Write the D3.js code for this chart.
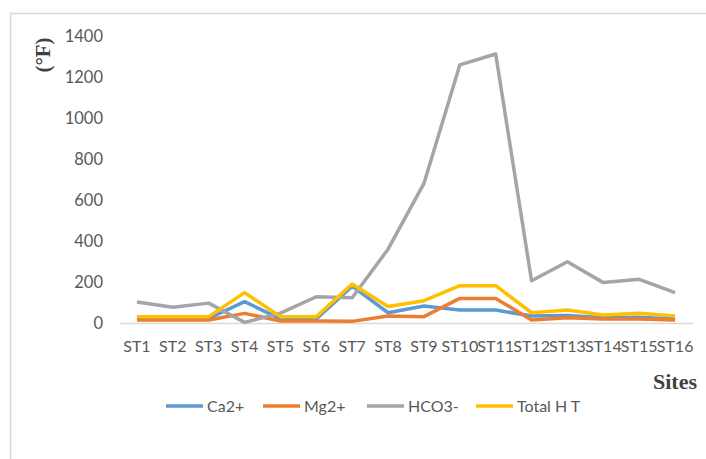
<!DOCTYPE html>
<html>
<head>
<meta charset="utf-8">
<script src="https://cdn.jsdelivr.net/npm/d3@7"></script>
<style>
  body { margin: 0; background: #fff; }
  svg { display: block; }
</style>
</head>
<body>
<div id="chart"></div>
<script>
// Sites along the x axis
const sites = ["ST1", "ST2", "ST3", "ST4", "ST5", "ST6", "ST7", "ST8",
  "ST9", "ST10", "ST11", "ST12", "ST13", "ST14", "ST15", "ST16"];

// Series values
const ca = [22, 22, 22, 104, 20, 20, 180, 50, 83, 63, 63, 34, 36, 26, 28, 20];
const mg = [15, 15, 15, 47, 10, 10, 8, 34, 31, 120, 120, 15, 26, 20, 20, 15];
const hco3 = [102, 77, 97, 3, 48, 128, 123, 360, 681, 1259, 1312, 206, 299, 197, 213, 148];
const totalHT = [31, 31, 31, 148, 31, 31, 190, 80, 109, 182, 182, 50, 63, 39, 47, 34];

const yTicks = [0, 200, 400, 600, 800, 1000, 1200, 1400];

const series = [
  { name: "Ca2+", values: ca, color: "#5B9BD5" },
  { name: "Mg2+", values: mg, color: "#ED7D31" },
  { name: "HCO3-", values: hco3, color: "#A5A5A5" },
  { name: "Total H T", values: totalHT, color: "#FFC000" }
];

const width = 706, height = 459;
const plot = { left: 119, right: 693, top: 36, bottom: 323 };
const font = "Lato, 'Open Sans', sans-serif";

const svg = d3.select("#chart")
  .append("svg")
  .attr("width", width)
  .attr("height", height);

// outer chart frame (cut off on the right and bottom)
svg.append("rect")
  .attr("x", 10.5)
  .attr("y", 13.5)
  .attr("width", 740)
  .attr("height", 500)
  .attr("fill", "none")
  .attr("stroke", "#d9d9d9")
  .attr("stroke-width", 1.5);

const x = d3.scaleBand()
  .domain(sites)
  .range([plot.left, plot.right]);

const y = d3.scaleLinear()
  .domain([0, 1400])
  .range([plot.bottom, plot.top]);

// y axis labels
const yAxis = svg.append("g")
  .attr("transform", `translate(${plot.left - 16},0)`)
  .call(d3.axisLeft(y).tickValues(yTicks).tickFormat(d3.format("d")).tickSize(0).tickPadding(0));
yAxis.select(".domain").remove();
yAxis.selectAll("text")
  .attr("font-family", font)
  .attr("font-size", 16.5)
  .attr("fill", "#595959");

// x axis
const xAxis = svg.append("g")
  .attr("transform", `translate(0,${plot.bottom})`)
  .call(d3.axisBottom(x).tickSize(0).tickPadding(18));
xAxis.select(".domain")
  .attr("stroke", "#d9d9d9")
  .attr("stroke-width", 1.5);
xAxis.selectAll("text")
  .attr("font-family", font)
  .attr("font-size", 16)
  .attr("fill", "#595959");

// lines
const line = d3.line()
  .x((d, i) => x(sites[i]) + x.bandwidth() / 2)
  .y(d => y(d));

svg.selectAll(".series")
  .data(series)
  .join("path")
  .attr("class", "series")
  .attr("d", d => line(d.values))
  .attr("fill", "none")
  .attr("stroke", d => d.color)
  .attr("stroke-width", 3.5)
  .attr("stroke-linejoin", "round");

// axis titles
svg.append("text")
  .attr("transform", "translate(50,55) rotate(-90)")
  .attr("text-anchor", "middle")
  .attr("font-family", "'Liberation Serif', serif")
  .attr("font-weight", "bold")
  .attr("font-size", 21)
  .attr("fill", "#404040")
  .text("(°F)");

svg.append("text")
  .attr("x", 697)
  .attr("y", 389)
  .attr("text-anchor", "end")
  .attr("font-family", "'Liberation Serif', serif")
  .attr("font-weight", "bold")
  .attr("font-size", 22)
  .attr("fill", "#404040")
  .text("Sites");

// legend
const legendX = [166, 263, 367, 476];
const legend = svg.selectAll(".legend")
  .data(series)
  .join("g")
  .attr("class", "legend")
  .attr("transform", (d, i) => `translate(${legendX[i]},406)`);

legend.append("line")
  .attr("x1", 0)
  .attr("x2", 37)
  .attr("stroke", d => d.color)
  .attr("stroke-width", 3.5);

legend.append("text")
  .attr("x", 41)
  .attr("dy", "0.35em")
  .attr("font-family", font)
  .attr("font-size", 16)
  .attr("fill", "#595959")
  .text(d => d.name);
</script>
</body>
</html>
